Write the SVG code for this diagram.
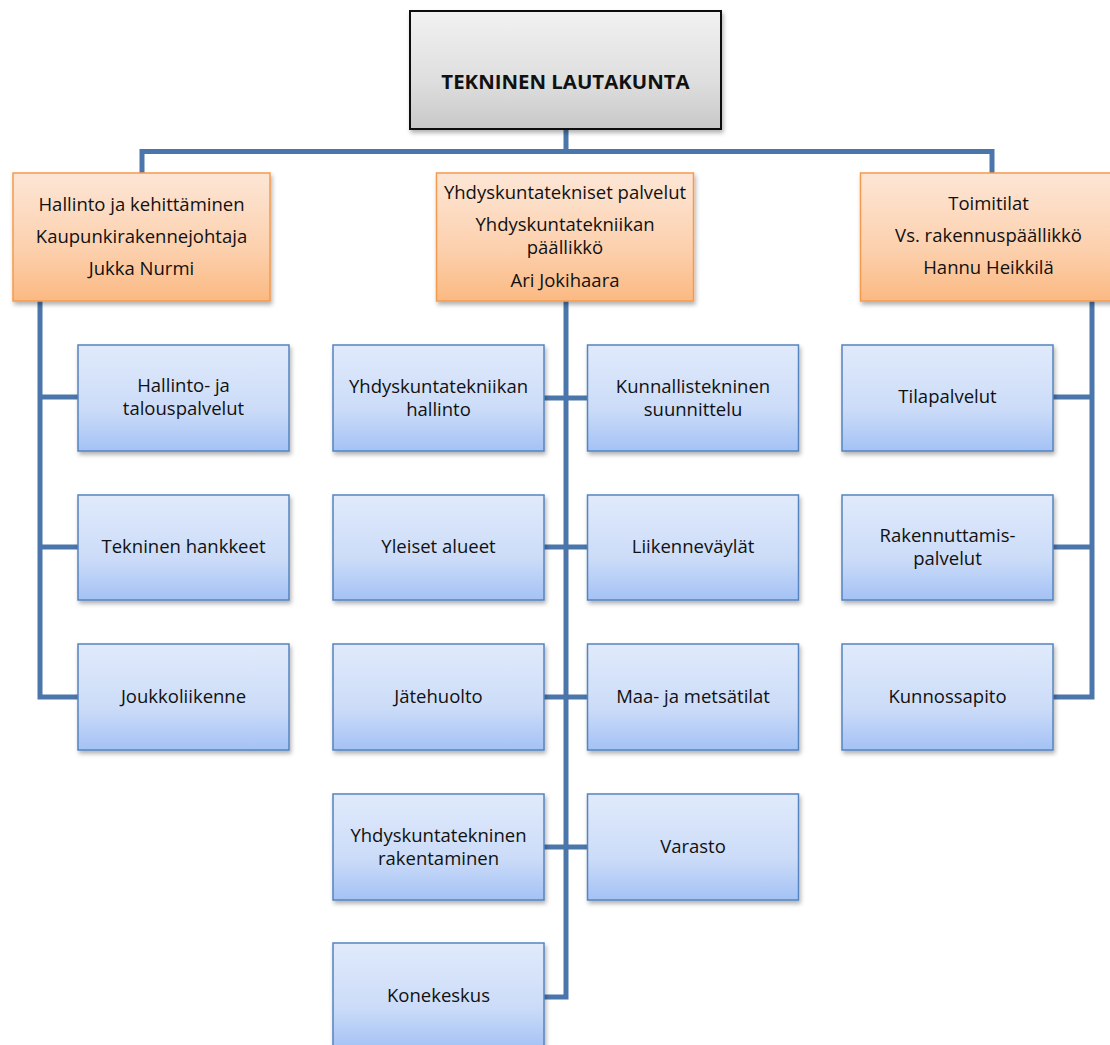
<svg xmlns="http://www.w3.org/2000/svg" width="1110" height="1045" viewBox="0 0 1110 1045">
<style>
  .t { font-family: "Open Sans", "Noto Sans", sans-serif; font-size: 18.5px; fill: #111; text-anchor: middle; }
  .tb { font-family: "Open Sans", "Noto Sans", sans-serif; font-size: 20.4px; font-weight: bold; fill: #111; text-anchor: middle; }
  .blue { fill: url(#gBlue); stroke: #5584c0; stroke-width: 1.5; filter: url(#sh); }
  .orange { fill: url(#gOrange); stroke: #f59a4e; stroke-width: 1.5; filter: url(#sh); }
  .grey { fill: url(#gGrey); stroke: #111; stroke-width: 2; filter: url(#sh); }
  .conn { fill: none; stroke: #4a76ab; stroke-width: 5; stroke-linejoin: miter; }
</style>
<defs>
  <linearGradient id="gBlue" x1="0" y1="0" x2="0" y2="1">
    <stop offset="0" stop-color="#e0eafb"/>
    <stop offset="0.6" stop-color="#ccdcf8"/>
    <stop offset="1" stop-color="#a4c2f5"/>
  </linearGradient>
  <linearGradient id="gOrange" x1="0" y1="0" x2="0" y2="1">
    <stop offset="0" stop-color="#fde6d6"/>
    <stop offset="0.6" stop-color="#fcd0ad"/>
    <stop offset="1" stop-color="#fbb982"/>
  </linearGradient>
  <linearGradient id="gGrey" x1="0" y1="0" x2="0" y2="1">
    <stop offset="0" stop-color="#f2f2f2"/>
    <stop offset="0.6" stop-color="#dedede"/>
    <stop offset="1" stop-color="#c8c8c8"/>
  </linearGradient>
  <filter id="sh" x="-10%" y="-10%" width="130%" height="130%">
    <feDropShadow dx="1.5" dy="3" stdDeviation="2" flood-color="#000" flood-opacity="0.3"/>
  </filter>
</defs>

<g id="connectors">
  <path class="conn" d="M566 129 V151.5 M142 173 V151.5 H992 V173"/>
  <path class="conn" d="M40 301 V697 H78 M40 397 H78 M40 547 H78"/>
  <path class="conn" d="M566 301 V997 H544 M544 398 H587 M544 547 H587 M544 697 H587 M544 847 H587"/>
  <path class="conn" d="M1092 301 V697 H1053 M1092 397 H1053 M1092 547 H1053"/>
</g>

<g id="top">
  <rect class="grey" x="410" y="11" width="311" height="118"/>
  <text class="tb" x="565.5" y="89">TEKNINEN LAUTAKUNTA</text>
</g>

<g id="hallinto">
  <rect class="orange" x="13" y="173" width="257" height="128"/>
  <text class="t" x="141.5" y="211">Hallinto ja kehittäminen</text>
  <text class="t" x="141.5" y="243">Kaupunkirakennejohtaja</text>
  <text class="t" x="141.5" y="275">Jukka Nurmi</text>
</g>
<g id="yhdyskunta">
  <rect class="orange" x="436.5" y="173" width="257" height="128"/>
  <text class="t" x="565" y="199">Yhdyskuntatekniset palvelut</text>
  <text class="t" x="565" y="231">Yhdyskuntatekniikan<tspan x="565" dy="23">päällikkö</tspan></text>
  <text class="t" x="565" y="287">Ari Jokihaara</text>
</g>
<g id="toimitilat">
  <rect class="orange" x="860.5" y="173" width="257" height="128"/>
  <text class="t" x="988.5" y="210">Toimitilat</text>
  <text class="t" x="988.5" y="242">Vs. rakennuspäällikkö</text>
  <text class="t" x="988.5" y="274">Hannu Heikkilä</text>
</g>

<g id="hallinto-talous">
  <rect class="blue" x="78" y="345" width="211" height="106"/>
  <text class="t" x="183.5" y="392">Hallinto- ja<tspan x="183.5" dy="23">talouspalvelut</tspan></text>
</g>
<g id="tekninen-hankkeet">
  <rect class="blue" x="78" y="495" width="211" height="105"/>
  <text class="t" x="183.5" y="553">Tekninen hankkeet</text>
</g>
<g id="joukkoliikenne">
  <rect class="blue" x="78" y="644" width="211" height="106"/>
  <text class="t" x="183.5" y="703">Joukkoliikenne</text>
</g>

<g id="yt-hallinto">
  <rect class="blue" x="333" y="345" width="211" height="106"/>
  <text class="t" x="438.5" y="393">Yhdyskuntatekniikan<tspan x="438.5" dy="23">hallinto</tspan></text>
</g>
<g id="yleiset-alueet">
  <rect class="blue" x="333" y="495" width="211" height="105"/>
  <text class="t" x="438.5" y="553">Yleiset alueet</text>
</g>
<g id="jatehuolto">
  <rect class="blue" x="333" y="644" width="211" height="106"/>
  <text class="t" x="438.5" y="703">Jätehuolto</text>
</g>
<g id="yt-rakentaminen">
  <rect class="blue" x="333" y="794" width="211" height="106"/>
  <text class="t" x="438.5" y="842">Yhdyskuntatekninen<tspan x="438.5" dy="23">rakentaminen</tspan></text>
</g>
<g id="konekeskus">
  <rect class="blue" x="333" y="943" width="211" height="106"/>
  <text class="t" x="438.5" y="1002">Konekeskus</text>
</g>

<g id="kunnallistekninen">
  <rect class="blue" x="587.5" y="345" width="211" height="106"/>
  <text class="t" x="693" y="393">Kunnallistekninen<tspan x="693" dy="23">suunnittelu</tspan></text>
</g>
<g id="liikennevaylat">
  <rect class="blue" x="587.5" y="495" width="211" height="105"/>
  <text class="t" x="693" y="553">Liikenneväylät</text>
</g>
<g id="maa-metsatilat">
  <rect class="blue" x="587.5" y="644" width="211" height="106"/>
  <text class="t" x="693" y="703">Maa- ja metsätilat</text>
</g>
<g id="varasto">
  <rect class="blue" x="587.5" y="794" width="211" height="106"/>
  <text class="t" x="693" y="853">Varasto</text>
</g>

<g id="tilapalvelut">
  <rect class="blue" x="842" y="345" width="211" height="106"/>
  <text class="t" x="947.5" y="403">Tilapalvelut</text>
</g>
<g id="rakennuttamis">
  <rect class="blue" x="842" y="495" width="211" height="105"/>
  <text class="t" x="947.5" y="542">Rakennuttamis-<tspan x="947.5" dy="23">palvelut</tspan></text>
</g>
<g id="kunnossapito">
  <rect class="blue" x="842" y="644" width="211" height="106"/>
  <text class="t" x="947.5" y="703">Kunnossapito</text>
</g>
</svg>
